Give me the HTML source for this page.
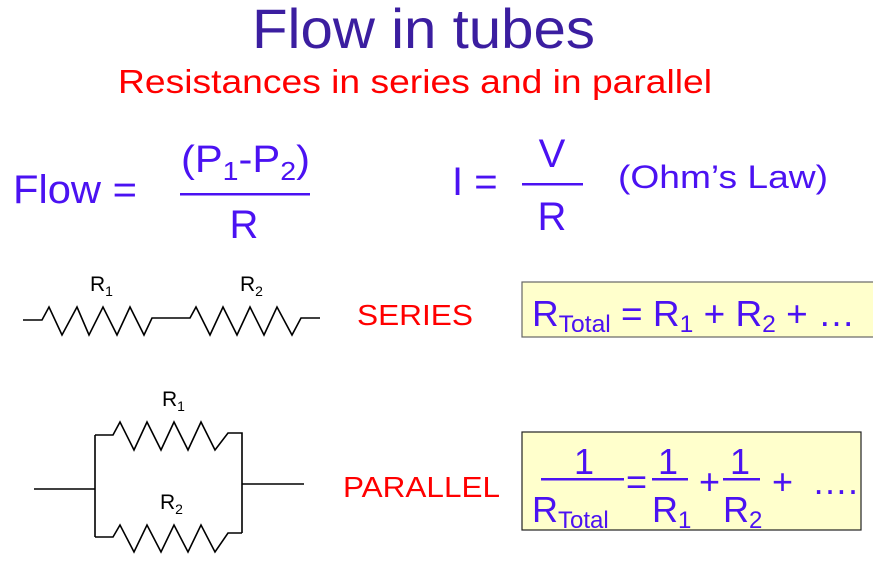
<!DOCTYPE html>
<html><head><style>body{margin:0;background:#fff}svg{display:block}</style></head><body>
<svg width="873" height="561" xmlns="http://www.w3.org/2000/svg" font-family="Liberation Sans, Arial, sans-serif">
<text x="252" y="48" font-size="56" fill="#3b1ea0" textLength="343" lengthAdjust="spacingAndGlyphs">Flow in tubes</text>
<text x="118" y="93" font-size="33" fill="#ff0000" textLength="594" lengthAdjust="spacingAndGlyphs">Resistances in series and in parallel</text>
<g fill="#4b12f2">
<text x="13" y="203" font-size="40" textLength="124" lengthAdjust="spacingAndGlyphs">Flow =</text>
<text x="181" y="172" font-size="38" textLength="129" lengthAdjust="spacingAndGlyphs">(P<tspan font-size="26" dy="8">1</tspan><tspan dy="-8">-P</tspan><tspan font-size="26" dy="8">2</tspan><tspan dy="-8">)</tspan></text>
<rect x="180" y="193" width="130" height="2.5"/>
<text x="244" y="238" font-size="40" text-anchor="middle">R</text>
<text x="452" y="195" font-size="40">I =</text>
<text x="552" y="167" font-size="40" text-anchor="middle">V</text>
<rect x="522" y="183" width="61" height="2.5"/>
<text x="552" y="230" font-size="40" text-anchor="middle">R</text>
<text x="618" y="188" font-size="32" textLength="210" lengthAdjust="spacingAndGlyphs">(Ohm’s Law)</text>
</g>
<text x="357" y="325" font-size="29" fill="#ff0000" textLength="116" lengthAdjust="spacingAndGlyphs">SERIES</text>
<text x="343" y="497" font-size="29" fill="#ff0000" textLength="157" lengthAdjust="spacingAndGlyphs">PARALLEL</text>
<g fill="none" stroke="#000" stroke-width="1.6">
<polyline points="23,320 42,320 49,307 62,335 77,307 89,335 103,307 117,335 130,307 144,335 152,318 190,318 196,307 210,335 223,307 237,335 250,307 264,335 277,307 292,335 301,318 320,318"/>
<polyline points="34,489 95,489"/>
<polyline points="95,435 95,537"/>
<polyline points="95,435 113,435 120,422 134,450 147,422 161,450 174,422 188,450 201,422 215,450 228,433 242,433 242,533"/>
<polyline points="95,537 113,537 120,525 134,552 147,525 161,552 174,525 188,552 201,525 215,552 228,533 242,533"/>
<polyline points="242,484 304,484"/>
</g>
<g font-size="21" fill="#000">
<text x="90" y="291">R<tspan font-size="14" dy="5">1</tspan></text>
<text x="240" y="291">R<tspan font-size="14" dy="5">2</tspan></text>
<text x="162" y="406">R<tspan font-size="14" dy="5">1</tspan></text>
<text x="160" y="509">R<tspan font-size="14" dy="5">2</tspan></text>
</g>
<rect x="522" y="282" width="360" height="55" fill="#ffffcc" stroke="#666" stroke-width="1.2"/>
<rect x="522" y="432" width="339" height="98" fill="#ffffcc" stroke="#222" stroke-width="1.2"/>
<g fill="#4b12f2">
<text x="532" y="326" font-size="36" textLength="323" lengthAdjust="spacingAndGlyphs">R<tspan font-size="24" dy="6">Total</tspan><tspan dy="-6"> = R</tspan><tspan font-size="24" dy="6">1</tspan><tspan dy="-6"> + R</tspan><tspan font-size="24" dy="6">2</tspan><tspan dy="-6"> + …</tspan></text>
<text x="584" y="474" font-size="36" text-anchor="middle">1</text>
<rect x="541" y="478" width="83" height="2.5"/>
<text x="532" y="522" font-size="36">R<tspan font-size="24" dy="6">Total</tspan></text>
<text x="626" y="494" font-size="36">=</text>
<text x="668" y="474" font-size="36" text-anchor="middle">1</text>
<rect x="652" y="478" width="36" height="2.5"/>
<text x="652" y="522" font-size="36">R<tspan font-size="24" dy="6">1</tspan></text>
<text x="699" y="494" font-size="36">+</text>
<text x="740" y="474" font-size="36" text-anchor="middle">1</text>
<rect x="723" y="478" width="37" height="2.5"/>
<text x="723" y="522" font-size="36">R<tspan font-size="24" dy="6">2</tspan></text>
<text x="772" y="494" font-size="36">+</text>
<text x="812" y="494" font-size="36">….</text>
</g>
</svg>
</body></html>
